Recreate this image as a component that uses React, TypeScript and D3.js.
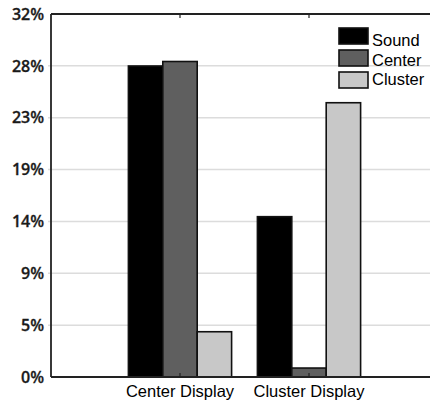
import React from "react";
import * as d3 from "d3";

const categories = ["Center Display", "Cluster Display"];
const seriesNames = ["Sound", "Center", "Cluster"];
const soundValues = [0.2776, 0.1431];
const centerValues = [0.2816, 0.008];
const clusterValues = [0.0404, 0.2448];
const tickLabels = ["0%", "5%", "9%", "14%", "19%", "23%", "28%", "32%"];
const yMax = 0.324;

const colors = ["#000000", "#5f5f5f", "#c8c8c8"];

export default function App() {
  const W = 430, H = 404;
  const left = 51, top = 14, bottom = 377;
  const x = d3.scaleLinear().domain([0, categories.length + 1]).range([left, left + 129 * 3]);
  const y = d3.scaleLinear().domain([0, yMax]).range([bottom, top]);
  const ticks = tickLabels.map((_, i) => (yMax * i) / (tickLabels.length - 1));
  const groupW = (x(1) - x(0)) * 0.8;
  const inner = d3.scaleBand().domain(seriesNames).range([-groupW / 2, groupW / 2]).padding(0);
  const series = [soundValues, centerValues, clusterValues];
  const font = "'Liberation Sans', Arial, sans-serif";
  const tickFont = "'Open Sans', 'DejaVu Sans', sans-serif";

  return (
    <svg width={W} height={H} style={{ position: "absolute", left: 0, top: 0, background: "#fff" }}>
      {ticks.map((t, i) =>
        i > 0 && i < ticks.length - 1 ? (
          <line key={"g" + i} x1={left - 3} x2={W} y1={y(t)} y2={y(t)} stroke="#dcdcdc" strokeWidth={1.5} />
        ) : null
      )}
      {ticks.map((t, i) => (
        <text
          key={"t" + i}
          x={44}
          y={y(t)}
          dy="0.36em"
          textAnchor="end"
          fontFamily={tickFont}
          fontSize={16}
          fontWeight={600}
          fill="#1a1a1a"
          stroke="#1a1a1a"
          strokeWidth={0.3}
        >
          {tickLabels[i]}
        </text>
      ))}
      {categories.map((c, ci) =>
        series.map((vals, si) => {
          const cx = x(ci + 1);
          const bx = cx + (inner(seriesNames[si]) as number);
          return (
            <rect
              key={c + si}
              x={bx}
              y={y(vals[ci])}
              width={inner.bandwidth()}
              height={bottom - y(vals[ci])}
              fill={colors[si]}
              stroke="#111"
              strokeWidth={1.6}
            />
          );
        })
      )}
      <line x1={left} x2={W} y1={top} y2={top} stroke="#222" strokeWidth={1.8} />
      <line x1={left} x2={W} y1={bottom} y2={bottom} stroke="#222" strokeWidth={1.8} />
      <line x1={left} x2={left} y1={top} y2={bottom} stroke="#222" strokeWidth={1.8} />
      {categories.map((c, ci) => (
        <g key={"ct" + c}>
          <line x1={x(ci + 1)} x2={x(ci + 1)} y1={top} y2={top + 4} stroke="#222" strokeWidth={1.2} />
          <line x1={x(ci + 1)} x2={x(ci + 1)} y1={bottom} y2={bottom - 4} stroke="#222" strokeWidth={1.2} />
          <text x={x(ci + 1)} y={397} textAnchor="middle" fontFamily={font} fontSize={16.5} fill="#000">
            {c}
          </text>
        </g>
      ))}
      {seriesNames.map((s, i) => (
        <g key={"l" + s}>
          <rect x={339} y={28 + i * 22} width={29} height={16} fill={colors[i]} stroke="#111" strokeWidth={1.6} />
          <text x={372} y={46 + i * 19.5} fontFamily={font} fontSize={16.5} fill="#000">
            {s}
          </text>
        </g>
      ))}
    </svg>
  );
}
